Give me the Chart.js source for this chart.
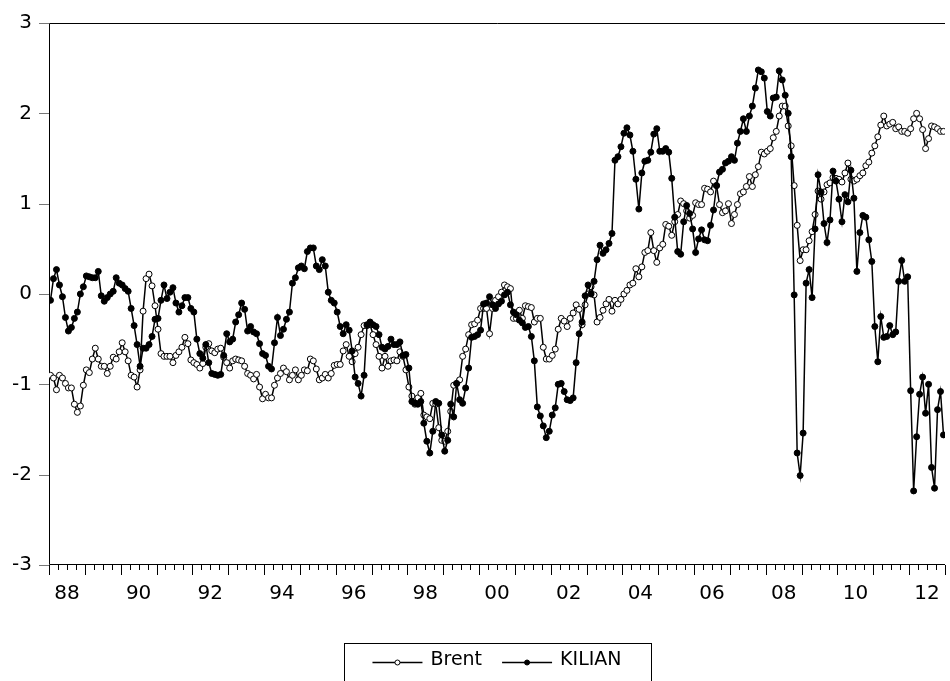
<!DOCTYPE html>
<html>
<head>
<meta charset="utf-8">
<title>Brent and KILIAN</title>
<script src="https://cdn.jsdelivr.net/npm/chart.js@4.4.1/dist/chart.umd.min.js"></script>
<style>
  html, body { margin: 0; padding: 0; background: #fff; }
  #wrap { width: 950px; height: 681px; }
</style>
</head>
<body>
<div id="wrap"><canvas id="oilChart" width="950" height="681"></canvas></div>
<script>
// Monthly series, 1988M01 - 2012M12 (one row per year)

const startYear = 1988;
const endYear = 2012;

const brent = [
  -0.90, -0.93, -1.06, -0.90, -0.93, -0.99, -1.04, -1.04, -1.22, -1.31, -1.24, -1.01,
  -0.84, -0.87, -0.72, -0.60, -0.72, -0.80, -0.80, -0.88, -0.80, -0.70, -0.72, -0.64,
  -0.54, -0.64, -0.74, -0.90, -0.92, -1.03, -0.84, -0.19, 0.17, 0.22, 0.09, -0.13,
  -0.39, -0.66, -0.69, -0.69, -0.69, -0.76, -0.68, -0.64, -0.59, -0.48, -0.55, -0.73,
  -0.76, -0.78, -0.82, -0.77, -0.59, -0.55, -0.63, -0.65, -0.61, -0.60, -0.70, -0.76,
  -0.82, -0.74, -0.72, -0.73, -0.74, -0.80, -0.88, -0.90, -0.94, -0.89, -1.03, -1.16,
  -1.11, -1.15, -1.15, -1.01, -0.93, -0.88, -0.82, -0.86, -0.95, -0.90, -0.84, -0.95,
  -0.90, -0.84, -0.85, -0.72, -0.74, -0.83, -0.95, -0.93, -0.89, -0.93, -0.88, -0.79,
  -0.78, -0.78, -0.63, -0.56, -0.69, -0.75, -0.66, -0.59, -0.45, -0.35, -0.35, -0.34,
  -0.45, -0.56, -0.69, -0.82, -0.69, -0.80, -0.74, -0.73, -0.74, -0.64, -0.69, -0.84,
  -1.03, -1.13, -1.22, -1.15, -1.10, -1.34, -1.36, -1.38, -1.21, -1.22, -1.48, -1.62,
  -1.63, -1.52, -1.30, -1.01, -0.99, -0.95, -0.69, -0.61, -0.45, -0.34, -0.33, -0.29,
  -0.16, -0.16, -0.16, -0.44, -0.16, -0.07, -0.03, 0.02, 0.10, 0.08, 0.06, -0.27,
  -0.27, -0.18, -0.27, -0.13, -0.14, -0.15, -0.31, -0.27, -0.27, -0.59, -0.72, -0.72,
  -0.68, -0.61, -0.39, -0.27, -0.30, -0.36, -0.27, -0.21, -0.12, -0.17, -0.34, -0.12,
  0.00, 0.08, -0.01, -0.31, -0.26, -0.18, -0.11, -0.06, -0.19, -0.07, -0.11, -0.06,
  0.00, 0.04, 0.10, 0.12, 0.28, 0.19, 0.30, 0.46, 0.48, 0.68, 0.48, 0.35,
  0.51, 0.55, 0.77, 0.75, 0.65, 0.80, 0.88, 1.03, 1.00, 0.92, 0.84, 0.87,
  1.01, 0.99, 0.99, 1.17, 1.16, 1.13, 1.25, 1.20, 0.99, 0.90, 0.92, 1.00,
  0.78, 0.88, 0.99, 1.11, 1.13, 1.19, 1.30, 1.19, 1.32, 1.41, 1.57, 1.55,
  1.58, 1.61, 1.73, 1.80, 1.97, 2.08, 2.08, 1.86, 1.64, 1.20, 0.76, 0.37,
  0.49, 0.49, 0.59, 0.69, 0.88, 1.14, 1.05, 1.13, 1.21, 1.23, 1.29, 1.28,
  1.27, 1.24, 1.34, 1.45, 1.27, 1.25, 1.27, 1.31, 1.34, 1.42, 1.46, 1.56,
  1.64, 1.74, 1.87, 1.97, 1.86, 1.88, 1.90, 1.83, 1.85, 1.80, 1.80, 1.78,
  1.83, 1.94, 2.00, 1.94, 1.82, 1.61, 1.72, 1.86, 1.85, 1.83, 1.80, 1.80
];

const kilian = [
  -0.07, 0.17, 0.27, 0.10, -0.03, -0.26, -0.41, -0.37, -0.27, -0.20, 0.00, 0.08,
  0.20, 0.19, 0.18, 0.18, 0.25, -0.02, -0.08, -0.04, 0.00, 0.03, 0.18, 0.12,
  0.10, 0.06, 0.03, -0.16, -0.35, -0.56, -0.80, -0.60, -0.60, -0.56, -0.47, -0.28,
  -0.27, -0.07, 0.10, -0.05, 0.02, 0.07, -0.10, -0.20, -0.13, -0.04, -0.04, -0.16,
  -0.20, -0.50, -0.66, -0.71, -0.56, -0.76, -0.88, -0.89, -0.90, -0.89, -0.68, -0.44,
  -0.53, -0.50, -0.31, -0.23, -0.10, -0.17, -0.41, -0.36, -0.42, -0.44, -0.55, -0.66,
  -0.68, -0.80, -0.83, -0.54, -0.26, -0.46, -0.39, -0.28, -0.20, 0.12, 0.18, 0.29,
  0.31, 0.28, 0.47, 0.51, 0.51, 0.31, 0.27, 0.38, 0.31, 0.02, -0.07, -0.10,
  -0.20, -0.36, -0.44, -0.34, -0.40, -0.63, -0.92, -0.99, -1.13, -0.90, -0.34, -0.31,
  -0.34, -0.36, -0.45, -0.59, -0.61, -0.58, -0.50, -0.56, -0.56, -0.53, -0.68, -0.67,
  -0.82, -1.19, -1.21, -1.22, -1.19, -1.43, -1.63, -1.76, -1.52, -1.19, -1.21, -1.56,
  -1.74, -1.62, -1.22, -1.36, -0.99, -1.17, -1.21, -1.04, -0.82, -0.48, -0.47, -0.45,
  -0.40, -0.11, -0.10, -0.03, -0.12, -0.16, -0.11, -0.08, -0.01, 0.02, -0.12, -0.20,
  -0.23, -0.29, -0.32, -0.37, -0.36, -0.47, -0.74, -1.25, -1.35, -1.46, -1.59, -1.52,
  -1.34, -1.26, -1.00, -0.99, -1.08, -1.17, -1.18, -1.15, -0.76, -0.44, -0.31, -0.02,
  0.10, 0.00, 0.14, 0.38, 0.54, 0.45, 0.49, 0.56, 0.67, 1.48, 1.52, 1.63,
  1.78, 1.84, 1.76, 1.58, 1.27, 0.94, 1.34, 1.47, 1.48, 1.57, 1.77, 1.83,
  1.58, 1.58, 1.61, 1.57, 1.28, 0.85, 0.47, 0.44, 0.80, 0.98, 0.89, 0.72,
  0.46, 0.61, 0.71, 0.60, 0.59, 0.76, 0.93, 1.20, 1.35, 1.38, 1.45, 1.47,
  1.52, 1.48, 1.67, 1.80, 1.94, 1.80, 1.97, 2.08, 2.28, 2.48, 2.46, 2.39,
  2.02, 1.97, 2.17, 2.18, 2.47, 2.37, 2.20, 2.00, 1.52, -0.01, -1.76, -2.01,
  -1.54, 0.12, 0.27, -0.04, 0.72, 1.32, 1.13, 0.78, 0.57, 0.82, 1.36, 1.25,
  1.05, 0.80, 1.10, 1.02, 1.37, 1.06, 0.25, 0.68, 0.87, 0.85, 0.60, 0.36,
  -0.36, -0.75, -0.25, -0.48, -0.47, -0.35, -0.45, -0.42, 0.14, 0.37, 0.14, 0.19,
  -1.07, -2.18, -1.58, -1.11, -0.92, -1.32, -1.00, -1.92, -2.15, -1.28, -1.08, -1.56
];

// Tick labels
const yearLabels = ['88', '90', '92', '94', '96', '98', '00', '02', '04', '06', '08', '10', '12'];
const yTicks = [-3, -2, -1, 0, 1, 2, 3];

// Month index 0..n-1, labelled 1988M01 etc.
const months = [];
for (let y = startYear; y <= endYear; y++) {
  for (let m = 1; m <= 12; m++) months.push(y + 'M' + String(m).padStart(2, '0'));
}

// year label sits in the middle of its year
const yearLabelPos = yearLabels.map((lab, k) => k * 24 + 5.5);

const FONT = '"DejaVu Sans", "Liberation Sans", sans-serif';
Chart.defaults.font.family = FONT;
Chart.defaults.color = '#000';

// frame + EViews style tick marks + boxed legend
const evStyle = {
  id: 'evStyle',
  beforeDatasetsDraw(chart) {
    const { ctx, chartArea: a, scales } = chart;
    ctx.save();
    ctx.lineWidth = 1;
    ctx.strokeStyle = '#000';
    // left, top and bottom edges (right edge falls outside the picture)
    ctx.beginPath();
    ctx.moveTo(a.right, a.top + 0.5);
    ctx.lineTo(a.left + 0.5, a.top + 0.5);
    ctx.lineTo(a.left + 0.5, a.bottom - 0.5);
    ctx.lineTo(a.right, a.bottom - 0.5);
    ctx.stroke();

    // y tick marks (outside, grey)
    ctx.strokeStyle = '#777';
    yTicks.forEach((v) => {
      const py = Math.round(scales.y.getPixelForValue(v)) + 0.5;
      ctx.beginPath();
      ctx.moveTo(a.left - 10, py);
      ctx.lineTo(a.left, py);
      ctx.stroke();
    });

    // x tick marks: long at each January, short at each quarter
    ctx.strokeStyle = '#000';
    for (let m = 0; m <= months.length; m += 3) {
      const px = Math.round(scales.x.getPixelForValue(m - 0.5)) + 0.5;
      const len = m % 12 === 0 ? 10 : 5;
      ctx.beginPath();
      ctx.moveTo(px, a.bottom);
      ctx.lineTo(px, a.bottom + len);
      ctx.stroke();
    }
    ctx.restore();
  },
  afterDraw(chart) {
    const { ctx, chartArea: a } = chart;
    const sets = chart.data.datasets.slice().sort((p, q) => p.legendIndex - q.legendIndex);
    ctx.save();
    ctx.font = '19px ' + FONT;
    const lineLen = 50;
    const gapText = 8;
    const gapItem = 20;
    const widths = sets.map((ds) => ctx.measureText(ds.label).width);
    const inner = widths.reduce((s, w) => s + lineLen + gapText + w, 0) + gapItem * (sets.length - 1);
    const boxW = 307;
    const cx = (a.left + a.right) / 2;
    const boxL = Math.round(cx - boxW / 2) + 0.5;
    const boxT = Math.round(a.bottom + 78) + 0.5;
    ctx.strokeStyle = '#000';
    ctx.lineWidth = 1;
    ctx.strokeRect(boxL, boxT, boxW, 60);

    const ly = boxT + 19;
    let x = cx - inner / 2;
    sets.forEach((ds, k) => {
      ctx.strokeStyle = '#000';
      ctx.lineWidth = 1.5;
      ctx.beginPath();
      ctx.moveTo(x, ly);
      ctx.lineTo(x + lineLen, ly);
      ctx.stroke();
      ctx.beginPath();
      ctx.arc(x + lineLen / 2, ly, 2.5, 0, Math.PI * 2);
      ctx.fillStyle = ds.pointBackgroundColor;
      ctx.fill();
      ctx.lineWidth = 1;
      ctx.stroke();
      x += lineLen + gapText;
      ctx.fillStyle = '#000';
      ctx.textBaseline = 'middle';
      ctx.textAlign = 'left';
      ctx.fillText(ds.label, x, ly - 2);
      x += widths[k] + gapItem;
    });
    ctx.restore();
  }
};

const ctx = document.getElementById('oilChart').getContext('2d');

new Chart(ctx, {
  type: 'line',
  data: {
    labels: months,
    datasets: [
      {
        label: 'KILIAN',
        legendIndex: 1,
        data: kilian.map((v, i) => ({ x: i, y: v })),
        borderColor: '#000',
        borderWidth: 1.5,
        pointRadius: 3,
        pointBorderWidth: 1,
        pointBackgroundColor: '#000',
        pointBorderColor: '#000',
        tension: 0,
        order: 1
      },
      {
        label: 'Brent',
        legendIndex: 0,
        data: brent.map((v, i) => ({ x: i, y: v })),
        borderColor: '#000',
        borderWidth: 1.5,
        pointRadius: 3,
        pointBorderWidth: 1,
        pointBackgroundColor: '#fff',
        pointBorderColor: '#000',
        tension: 0,
        order: 2
      }
    ]
  },
  options: {
    responsive: false,
    animation: false,
    devicePixelRatio: 1,
    layout: { padding: { top: 23, right: 0, bottom: 0, left: 0 } },
    plugins: {
      legend: { display: false },
      tooltip: { enabled: false }
    },
    scales: {
      x: {
        type: 'linear',
        min: -0.5,
        max: months.length - 0.5,
        afterBuildTicks: (scale) => {
          scale.ticks = yearLabelPos.map((v) => ({ value: v }));
        },
        afterFit: (scale) => {
          scale.height = 116;
          scale.paddingLeft = 0;
          scale.paddingRight = 0;
        },
        ticks: {
          autoSkip: false,
          maxRotation: 0,
          padding: 17,
          font: { size: 20 },
          callback: (v) => yearLabels[yearLabelPos.indexOf(v)]
        },
        grid: { display: false, drawTicks: false },
        border: { display: false }
      },
      y: {
        min: -3,
        max: 3,
        afterBuildTicks: (scale) => {
          scale.ticks = yTicks.map((v) => ({ value: v }));
        },
        afterFit: (scale) => {
          scale.width = 49;
          scale.paddingTop = 0;
          scale.paddingBottom = 0;
        },
        ticks: {
          padding: 17,
          font: { size: 20 },
          callback: (v) => String(v)
        },
        grid: { display: false, drawTicks: false },
        border: { display: false }
      }
    }
  },
  plugins: [evStyle]
});
</script>
</body>
</html>
